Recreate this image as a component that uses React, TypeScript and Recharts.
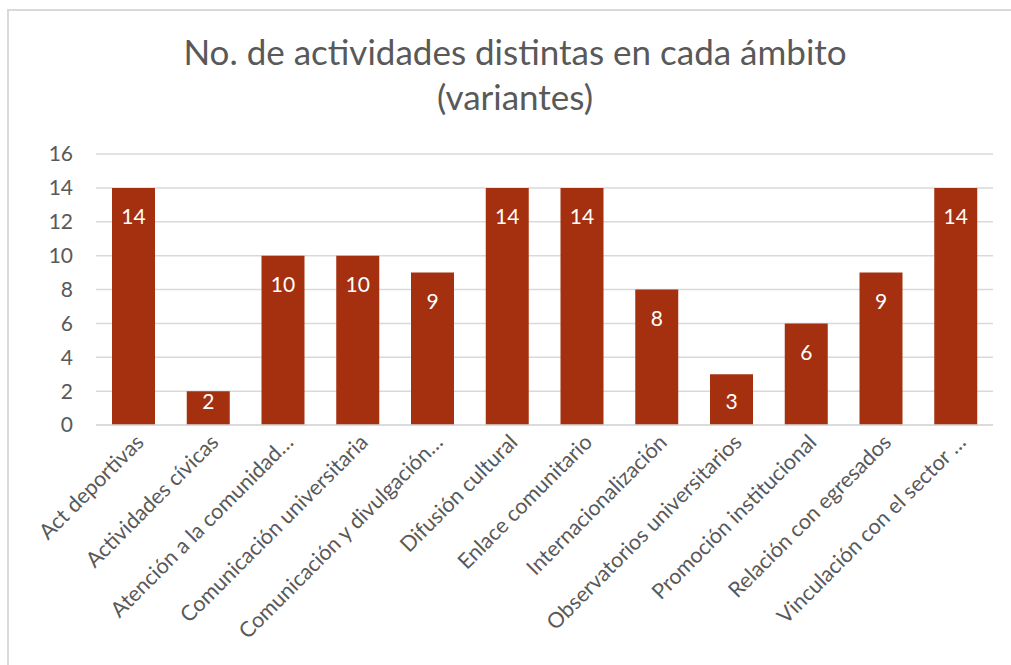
import { BarChart, Bar, XAxis, YAxis, CartesianGrid, LabelList } from 'recharts';

const categories = [
  'Act deportivas',
  'Actividades cívicas',
  'Atención a la comunidad…',
  'Comunicación universitaria',
  'Comunicación y divulgación…',
  'Difusión cultural',
  'Enlace comunitario',
  'Internacionalización',
  'Observatorios universitarios',
  'Promoción institucional',
  'Relación con egresados',
  'Vinculación con el sector …',
];
const variantes = [14, 2, 10, 10, 9, 14, 14, 8, 3, 6, 9, 14];
const yTicks = [0, 2, 4, 6, 8, 10, 12, 14, 16];

const data = categories.map((name, i) => ({ name, value: variantes[i] }));

const FONT = 'Lato, "Open Sans", sans-serif';
const GREY = '#595959';

const AngledTick = (props: any) => {
  const { x, y, payload } = props;
  return (
    <g transform={`translate(${x + 6},${y + 5})`}>
      <text
        transform="rotate(-45)"
        textAnchor="end"
        fill={GREY}
        fontSize={21.5}
        fontFamily={FONT}
        dy={8}
      >
        {payload.value}
      </text>
    </g>
  );
};

const InsideLabel = (props: any) => {
  const { x, y, width, height, value } = props;
  const cy = Math.min(y + 28, y + height - 25);
  return (
    <text
      x={x + width / 2}
      y={cy}
      textAnchor="middle"
      dominantBaseline="central"
      fill="#ffffff"
      fontSize={21}
      fontFamily={FONT}
    >
      {value}
    </text>
  );
};

export default function App() {
  return (
    <div
      style={{
        position: 'absolute',
        left: 0,
        top: 0,
        width: 1011,
        height: 665,
        overflow: 'hidden',
        background: '#fff',
      }}
    >
      <div
        style={{
          position: 'absolute',
          left: 7,
          top: 9,
          width: 1040,
          height: 700,
          border: '2px solid #d9d9d9',
        }}
      />
      <div
        style={{
          position: 'absolute',
          left: 8,
          width: 1014,
          top: 29,
          textAlign: 'center',
          fontFamily: FONT,
          fontSize: 35,
          lineHeight: '45px',
          color: GREY,
        }}
      >
        No. de actividades distintas en cada ámbito
        <br />
        (variantes)
      </div>
      <div style={{ position: 'absolute', left: 0, top: 0 }}>
        <BarChart
          width={1011}
          height={665}
          data={data}
          margin={{ top: 154, right: 18, bottom: 0, left: 0 }}
          barSize={43}
        >
          <CartesianGrid vertical={false} stroke="#d9d9d9" strokeWidth={1.5} />
          <XAxis
            dataKey="name"
            interval={0}
            tickLine={false}
            axisLine={{ stroke: '#d9d9d9', strokeWidth: 1.5 }}
            tick={<AngledTick />}
            height={240}
          />
          <YAxis
            width={96}
            domain={[0, 16]}
            ticks={yTicks}
            tickLine={false}
            axisLine={false}
            tickMargin={17}
            tick={{ fill: GREY, fontSize: 21, fontFamily: FONT }}
          />
          <Bar dataKey="value" fill="#A5300F" isAnimationActive={false}>
            <LabelList dataKey="value" content={<InsideLabel />} />
          </Bar>
        </BarChart>
      </div>
    </div>
  );
}
